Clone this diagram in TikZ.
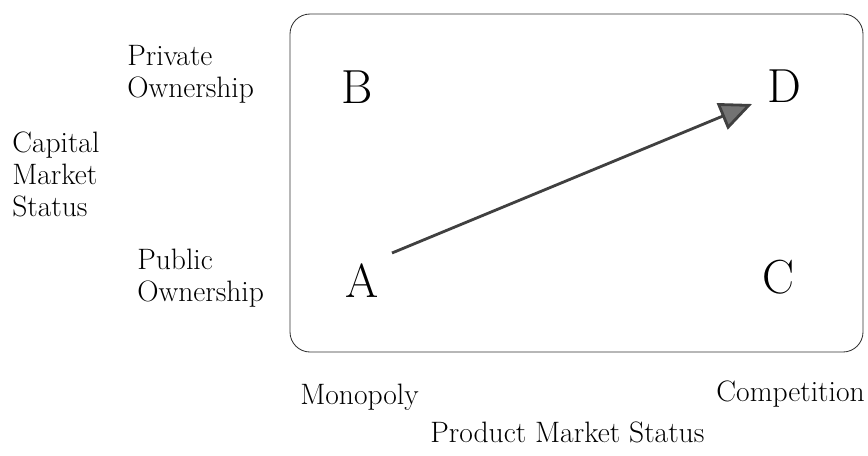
\documentclass[tikz,border=0pt]{standalone}
\usetikzlibrary{arrows.meta,positioning}

\tikzset{
  axlab/.style={font=\fontsize{21}{22.7}\selectfont, align=left, inner sep=0pt},
  cell/.style={font=\fontsize{34}{34}\selectfont, inner sep=0pt},
}

\begin{document}
\begin{tikzpicture}[x=0.025cm,y=-0.025cm]
\useasboundingbox (0,0) rectangle (868,455);
% the matrix frame
\draw[black!80, line width=0.6pt, rounded corners=0.5cm] (290,14) rectangle (863,352);
% cells
\node[cell] (B) at (357,87) {B};
\node[cell] (D) at (784,86) {D};
\node[cell] (A) at (362,281) {A};
\node[cell] (C) at (778,277) {C};
% side labels
\node[axlab, anchor=north west] (priv) at (127,45) {Private\\Ownership};
\node[axlab, anchor=north west] (pub) at (137,249) {Public\\Ownership};
\node[axlab, anchor=north west] (cap) at (12,132) {Capital\\Market\\Status};
\node[axlab, anchor=base west] (mono) at (300,404) {Monopoly};
\node[axlab, anchor=base east] (comp) at (865,401) {Competition};
\node[axlab, anchor=base west] (prod) at (430,442) {Product Market Status};
% move from A to D
\coordinate (start) at (392,253);
\coordinate (tip) at (752,104);
\draw[black!75, line width=2pt, -{Triangle[length=23pt,width=20pt,fill=black!55]}] (start) -- (tip);
\end{tikzpicture}
\end{document}
